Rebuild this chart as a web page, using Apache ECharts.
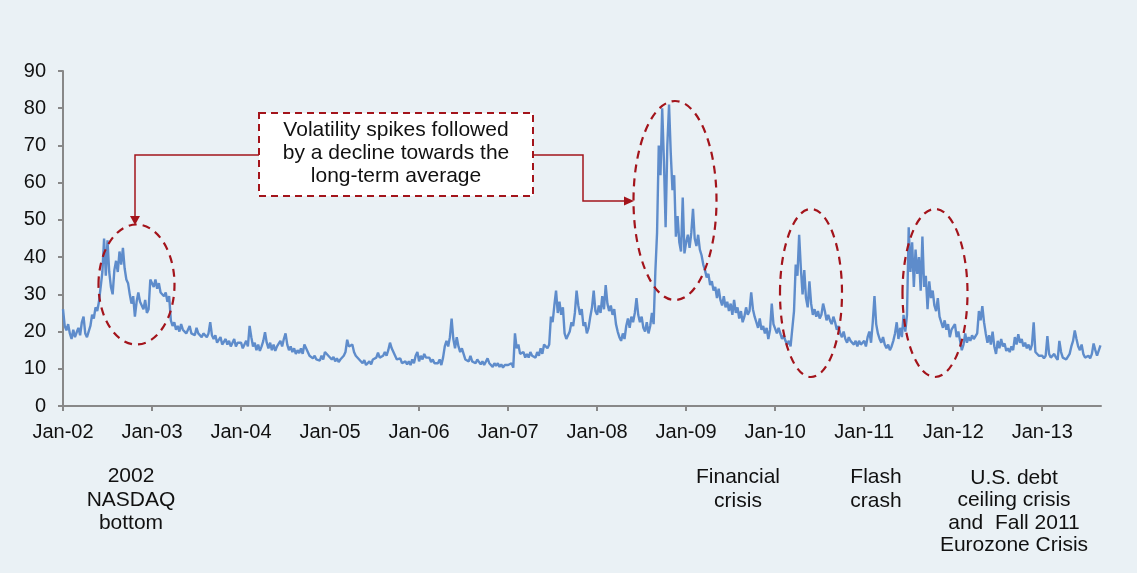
<!DOCTYPE html>
<html>
<head>
<meta charset="utf-8">
<script src="https://cdn.jsdelivr.net/npm/echarts@6/dist/echarts.min.js"></script>
<style>
  html, body { margin: 0; padding: 0; background: #eaf1f5; }
  #chart { width: 1137px; height: 573px; }
</style>
</head>
<body>
<div id="chart"></div>
<script>
// Weekly volatility readings, one array per calendar year (52 weeks each)
const vix2002 = [26.0, 21.5, 20.3, 22.0, 19.5, 18.0, 20.5, 18.5, 19.8, 21.0, 19.0, 22.5, 24.0, 19.5, 18.5, 18.0,
  21.5, 24.5, 23.5, 26.5, 25.5, 28.0, 28.5, 36.0, 45.0, 35.0, 44.5, 36.0, 32.0, 30.0, 36.5, 39.0,
  36.0, 41.5, 38.0, 42.5, 37.0, 34.0, 33.0, 30.0, 27.5, 29.5, 24.0, 28.0, 30.5, 28.0, 27.5, 26.0,
  28.5, 25.0, 26.0, 34.0];
const vix2003 = [33.5, 32.0, 34.0, 31.5, 33.0, 30.5, 31.0, 29.5, 30.5, 28.0, 29.5, 23.0, 21.5, 22.5, 20.5, 21.5,
  20.0, 22.0, 20.5, 21.0, 19.5, 20.5, 21.5, 19.5, 20.0, 19.0, 21.0, 19.5, 20.0, 18.5, 19.5, 20.0,
  18.5, 19.5, 22.5, 19.0, 18.0, 19.0, 17.0, 17.5, 18.5, 16.5, 17.0, 18.0, 16.5, 17.5, 16.0, 17.0,
  18.0, 16.0, 17.0, 16.5];
const vix2004 = [17.0, 15.5, 16.5, 17.5, 16.0, 21.5, 18.5, 16.0, 17.0, 15.0, 16.5, 14.8, 16.0, 17.5, 19.8, 17.0,
  15.5, 17.0, 15.0, 16.5, 14.8, 16.0, 15.5, 17.5, 16.0, 18.0, 19.5, 16.5, 15.0, 16.0, 14.5, 15.5,
  14.0, 15.0, 14.2, 15.5, 14.0, 16.5, 17.0, 14.5, 13.5, 14.0, 12.8, 13.5, 12.5, 13.0, 12.2, 13.5,
  12.5, 14.5, 15.0, 13.5];
const vix2005 = [13.5, 12.5, 13.2, 12.0, 12.8, 11.8, 12.5, 12.0, 13.5, 14.5, 17.8, 16.0, 15.5, 16.5, 14.5, 13.5,
  14.0, 12.5, 12.0, 11.5, 12.3, 11.0, 11.5, 12.0, 11.2, 12.5, 12.0, 13.0, 14.3, 13.0, 12.5, 13.5,
  14.5, 13.5, 15.0, 17.0, 15.5, 16.0, 13.5, 12.5, 12.0, 12.8, 11.5, 11.0, 12.0, 11.2, 12.0, 11.0,
  12.5, 11.5, 13.5, 14.5];
const vix2006 = [12.0, 13.5, 12.5, 14.0, 13.0, 12.5, 13.0, 11.8, 12.5, 11.5, 12.0, 11.5, 12.5, 11.0, 13.0, 16.0,
  17.5, 16.0, 18.5, 23.5, 18.0, 15.5, 18.5, 16.0, 14.5, 15.5, 14.0, 12.5, 13.0, 12.0, 13.5, 12.0,
  12.5, 11.5, 12.5, 11.8, 11.2, 12.0, 11.0, 11.5, 12.8, 11.5, 11.0, 10.5, 11.5, 10.8, 11.5, 10.5,
  11.2, 10.3, 11.0, 10.5];
const vix2007 = [11.0, 10.5, 11.5, 10.3, 19.5, 15.5, 16.5, 14.0, 13.5, 14.5, 13.0, 14.0, 13.0, 14.5, 13.5, 14.0,
  13.0, 14.5, 13.5, 15.5, 14.0, 16.5, 17.0, 15.5, 16.5, 24.0, 22.5, 27.0, 31.0, 25.0, 28.0, 24.5,
  26.5, 19.5, 18.0, 17.5, 20.0, 22.5, 21.5, 25.0, 31.0, 27.0, 24.5, 26.0, 21.5, 22.5, 19.5, 21.0,
  24.0, 26.5, 31.0, 25.5];
const vix2008 = [24.5, 27.0, 25.0, 29.5, 26.0, 32.5, 27.5, 25.5, 27.0, 24.5, 26.0, 22.0, 20.0, 18.5, 17.5, 19.5,
  18.0, 21.5, 23.5, 21.0, 24.0, 22.5, 25.0, 29.0, 24.5, 22.5, 24.0, 21.0, 20.0, 22.5, 19.5, 21.5,
  25.0, 22.0, 36.0, 46.5, 70.0, 62.0, 80.0, 66.0, 48.0, 70.0, 81.0, 68.0, 58.0, 62.0, 45.5, 51.0,
  44.0, 41.5, 56.0, 41.0];
const vix2009 = [44.0, 46.0, 42.5, 46.5, 53.0, 45.0, 43.0, 46.0, 42.0, 40.5, 38.0, 36.5, 34.5, 35.5, 32.5, 33.5,
  31.0, 32.0, 29.0, 31.5, 28.5, 27.0, 29.5, 26.5, 28.0, 25.5, 27.5, 24.5, 28.5, 25.0, 26.5, 23.5,
  25.5, 22.5, 24.0, 26.5, 24.5, 25.5, 30.5, 26.0, 24.0, 22.5, 21.0, 23.5, 20.5, 21.5, 19.5, 21.0,
  18.0, 20.5, 27.5, 22.0];
const vix2010 = [21.5, 19.5, 21.0, 19.5, 18.0, 19.0, 17.5, 16.5, 17.5, 16.0, 15.8, 25.5, 38.0, 35.0, 46.0, 37.0,
  30.0, 36.5, 29.0, 26.5, 33.5, 27.5, 24.5, 26.0, 24.0, 25.5, 23.5, 24.5, 27.5, 25.5, 23.0, 24.5,
  23.0, 22.0, 24.0, 22.5, 20.5, 21.5, 19.5, 18.5, 20.0, 18.0, 17.0, 18.5, 17.5, 18.0, 16.5, 17.5,
  16.0, 17.5, 16.5, 17.0];
const vix2011 = [17.5, 16.0, 18.5, 20.0, 17.0, 22.5, 29.5, 22.0, 19.5, 18.0, 17.0, 18.5, 16.5, 15.5, 16.5, 15.0,
  16.0, 17.5, 19.5, 22.5, 18.0, 21.0, 18.5, 24.5, 20.0, 24.5, 48.0, 36.0, 44.0, 32.0, 42.0, 35.5,
  40.0, 31.0, 45.5, 32.0, 35.0, 26.0, 33.5, 29.0, 31.0, 27.0, 25.5, 29.0, 24.0, 22.5, 21.0, 23.0,
  20.5, 22.0, 18.5, 20.5];
const vix2012 = [20.5, 22.0, 18.5, 20.0, 17.5, 15.0, 16.5, 19.5, 17.0, 18.5, 17.5, 19.0, 18.0, 17.5, 19.5, 25.5,
  23.0, 26.8, 22.5, 19.5, 17.0, 19.0, 16.5, 20.0, 16.0, 14.0, 17.5, 15.5, 18.0, 16.0, 16.8, 14.8,
  15.5, 14.5, 16.0, 15.0, 18.5, 16.5, 19.3, 17.0, 18.0, 16.0, 17.0, 15.5, 16.5, 15.0, 16.5, 22.5,
  14.5, 14.0, 13.5, 14.0];
const vix2013 = [13.5, 12.8, 13.5, 18.8, 14.0, 13.0, 12.5, 14.0, 13.0, 12.4, 17.5, 14.5, 13.0, 13.5, 12.5, 13.0,
  14.0, 16.0, 17.5, 20.3, 18.0, 16.0, 15.0, 16.5, 14.0, 13.0, 12.5, 13.5, 12.8, 14.0, 16.8, 15.0,
  13.5, 14.0, 16.3];

const years = [2002, 2003, 2004, 2005, 2006, 2007, 2008, 2009, 2010, 2011, 2012, 2013];
const yearly = [vix2002, vix2003, vix2004, vix2005, vix2006, vix2007, vix2008, vix2009, vix2010, vix2011, vix2012, vix2013];
const yTicks = [0, 10, 20, 30, 40, 50, 60, 70, 80, 90];

// x is the fractional year of each weekly reading
const seriesData = [];
yearly.forEach((arr, i) => {
  arr.forEach((v, k) => seriesData.push([years[i] + k / 52, v]));
});

const FONT = '"Liberation Sans", Arial, sans-serif';
const RED = '#a3141b';

let chart = echarts.init(document.getElementById('chart'), null, { renderer: 'canvas' });

chart.setOption({
  backgroundColor: '#eaf1f5',
  animation: false,
  grid: { left: 63, right: 36, top: 71, bottom: 167 },
  xAxis: {
    type: 'value',
    min: 2002,
    max: 2013.66,
    interval: 1,
    splitLine: { show: false },
    axisLine: { show: true, lineStyle: { color: '#888', width: 2 } },
    axisTick: { show: true, length: 5, customValues: years, lineStyle: { color: '#888', width: 2 } },
    axisLabel: {
      customValues: years,
      margin: 16,
      color: '#111',
      fontFamily: FONT,
      fontSize: 20,
      formatter: v => 'Jan-' + String(Math.round(v)).slice(2)
    }
  },
  yAxis: {
    type: 'value',
    min: yTicks[0],
    max: yTicks[yTicks.length - 1],
    interval: 10,
    splitLine: { show: false },
    axisLine: { show: true, lineStyle: { color: '#888', width: 2 } },
    axisTick: { show: true, length: 5, lineStyle: { color: '#888', width: 2 } },
    axisLabel: { margin: 17, color: '#111', fontFamily: FONT, fontSize: 20 }
  },
  series: [
    {
      type: 'line',
      data: seriesData,
      showSymbol: false,
      lineStyle: { color: '#5e8ccb', width: 2.4 },
      z: 2
    }
  ],
  graphic: [
    // callout box
    {
      type: 'rect',
      shape: { x: 259, y: 113, width: 274, height: 83 },
      style: { fill: '#fff', stroke: RED, lineWidth: 2, lineDash: [7, 5] },
      z: 10
    },
    {
      type: 'text',
      x: 396, y: 153,
      style: {
        text: 'Volatility spikes followed\nby a decline towards the\nlong-term average',
        fill: '#111', font: '21px ' + FONT, align: 'center', verticalAlign: 'middle', lineHeight: 23
      },
      z: 11
    },
    // connectors
    {
      type: 'polyline',
      shape: { points: [[259, 155], [135, 155], [135, 218]] },
      style: { stroke: RED, lineWidth: 1.5, fill: null },
      z: 10
    },
    {
      type: 'polygon',
      shape: { points: [[130, 216], [140, 216], [135, 225]] },
      style: { fill: RED },
      z: 10
    },
    {
      type: 'polyline',
      shape: { points: [[533, 155], [583, 155], [583, 201], [626, 201]] },
      style: { stroke: RED, lineWidth: 1.5, fill: null },
      z: 10
    },
    {
      type: 'polygon',
      shape: { points: [[624, 196.5], [624, 205.5], [634, 201]] },
      style: { fill: RED },
      z: 10
    },
    // dashed ellipses round the spikes
    { type: 'ellipse', shape: { cx: 136.5, cy: 284.5, rx: 38, ry: 60 },
      style: { fill: null, stroke: RED, lineWidth: 2.2, lineDash: [8, 6] }, z: 10 },
    { type: 'ellipse', shape: { cx: 675, cy: 200.5, rx: 41.5, ry: 99.5 },
      style: { fill: null, stroke: RED, lineWidth: 2.2, lineDash: [8, 6] }, z: 10 },
    { type: 'ellipse', shape: { cx: 811, cy: 293, rx: 31, ry: 84 },
      style: { fill: null, stroke: RED, lineWidth: 2.2, lineDash: [8, 6] }, z: 10 },
    { type: 'ellipse', shape: { cx: 935, cy: 293, rx: 32.5, ry: 84 },
      style: { fill: null, stroke: RED, lineWidth: 2.2, lineDash: [8, 6] }, z: 10 },
    // event captions under the axis
    {
      type: 'text', x: 131, y: 500,
      style: { text: '2002\nNASDAQ\nbottom', fill: '#111', font: '21px ' + FONT,
        align: 'center', verticalAlign: 'middle', lineHeight: 23.5 }
    },
    {
      type: 'text', x: 738, y: 489,
      style: { text: 'Financial\ncrisis', fill: '#111', font: '21px ' + FONT,
        align: 'center', verticalAlign: 'middle', lineHeight: 23.5 }
    },
    {
      type: 'text', x: 876, y: 489,
      style: { text: 'Flash\ncrash', fill: '#111', font: '21px ' + FONT,
        align: 'center', verticalAlign: 'middle', lineHeight: 23.5 }
    },
    {
      type: 'text', x: 1014, y: 511.5,
      style: { text: 'U.S. debt\nceiling crisis\nand  Fall 2011\nEurozone Crisis', fill: '#111', font: '21px ' + FONT,
        align: 'center', verticalAlign: 'middle', lineHeight: 22.5 }
    }
  ]
});
</script>
</body>
</html>
